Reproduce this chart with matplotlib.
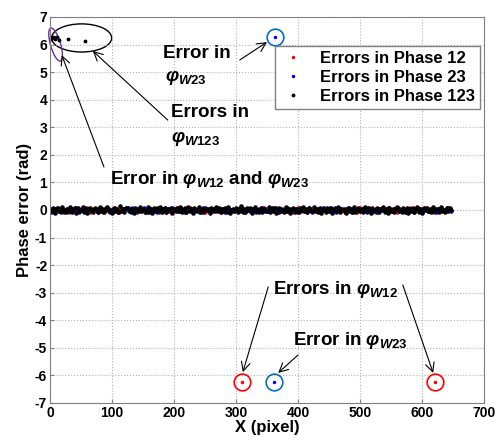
import numpy as np
import matplotlib as mpl
import matplotlib.pyplot as plt
from matplotlib.patches import Ellipse

mpl.rcParams.update({
    'font.family': 'Liberation Sans',
    'font.weight': 'bold',
    'axes.unicode_minus': False,
    'mathtext.fontset': 'custom',
    'mathtext.rm': 'Liberation Sans:bold',
    'mathtext.it': 'Liberation Sans:italic:bold',
    'mathtext.bf': 'Liberation Sans:bold',
})

# noise band around zero (x = pixel index)
red_x = np.arange(0, 650, 5)
red_err = [
    0.05, -0.08, 0.02, -0.04, 0.07, -0.01, -0.09, 0.03, 0.06, -0.05,
    0.01, -0.03, 0.08, -0.07, 0.04, -0.02, 0.09, -0.06, 0.00, 0.05,
    -0.04, 0.07, -0.08, 0.02, -0.01, 0.06, -0.05, 0.03, -0.09, 0.04,
    0.01, -0.06, 0.08, -0.03, 0.05, -0.07, 0.02, 0.06, -0.02, -0.08,
    0.03, 0.07, -0.04, 0.01, -0.06, 0.09, -0.01, 0.04, -0.05, 0.02,
    -0.07, 0.05, 0.00, -0.03, 0.08, -0.09, 0.03, 0.06, -0.04, 0.01,
    0.04, -0.02, 0.07, -0.06, 0.02, -0.08, 0.05, 0.01, -0.03, 0.06,
    -0.05, 0.03, -0.01, 0.08, -0.07, 0.04, -0.02, 0.05, -0.09, 0.02,
    0.07, -0.04, 0.01, -0.06, 0.03, 0.09, -0.03, 0.00, 0.06, -0.05,
    0.02, -0.08, 0.04, 0.07, -0.01, -0.06, 0.05, -0.02, 0.03, -0.07,
    0.08, -0.04, 0.01, 0.06, -0.03, -0.09, 0.04, 0.02, -0.05, 0.07,
    -0.01, 0.03, -0.06, 0.05, 0.00, -0.08, 0.06, -0.02, 0.04, -0.04,
    0.02, 0.07, -0.05, 0.01, -0.07, 0.03, 0.05, -0.03, 0.08, -0.01,
]
blue_x = np.arange(2, 652, 5)
blue_err = [
    -0.06, 0.03, 0.08, -0.02, -0.07, 0.05, 0.01, -0.04, 0.06, -0.09,
    0.02, 0.07, -0.05, 0.00, 0.04, -0.08, 0.03, -0.01, 0.09, -0.06,
    0.05, -0.03, -0.07, 0.02, 0.06, -0.04, 0.08, -0.02, 0.01, -0.05,
    0.07, -0.08, 0.03, 0.04, -0.06, 0.00, 0.05, -0.09, 0.02, 0.06,
    -0.01, -0.04, 0.08, -0.07, 0.03, 0.05, -0.02, 0.01, -0.06, 0.07,
    0.04, -0.05, -0.01, 0.09, -0.03, 0.02, -0.08, 0.06, 0.00, -0.04,
    0.03, 0.07, -0.06, 0.01, -0.02, 0.05, -0.07, 0.04, 0.08, -0.03,
    -0.05, 0.02, 0.06, -0.09, 0.03, -0.01, 0.07, -0.04, 0.05, 0.00,
    -0.06, 0.04, -0.02, 0.08, -0.07, 0.01, 0.03, -0.05, 0.06, -0.03,
    0.09, -0.01, -0.08, 0.02, 0.05, -0.04, 0.07, -0.06, 0.00, 0.03,
    -0.02, 0.06, -0.07, 0.04, 0.01, -0.09, 0.05, 0.02, -0.03, 0.08,
    -0.05, 0.03, 0.07, -0.01, -0.06, 0.04, 0.00, -0.08, 0.06, 0.02,
    -0.04, 0.05, -0.02, 0.09, -0.07, 0.01, 0.03, -0.05, 0.07, -0.03,
]
black_x = np.arange(0, 650, 2.5)
black_err = [
    0.02, -0.05, 0.09, -0.11, 0.04, 0.07, -0.03, -0.08, 0.11, 0.01,
    -0.06, 0.05, -0.02, 0.10, -0.09, 0.03, 0.06, -0.12, 0.08, -0.04,
    0.00, 0.12, -0.07, 0.03, -0.10, 0.05, 0.09, -0.01, -0.06, 0.07,
    0.04, -0.09, 0.11, -0.03, 0.02, -0.08, 0.06, 0.10, -0.05, 0.01,
    -0.11, 0.08, -0.02, 0.05, -0.07, 0.13, -0.04, 0.03, -0.09, 0.06,
    0.09, -0.01, -0.06, 0.04, -0.12, 0.07, 0.02, -0.05, 0.11, -0.03,
    0.05, -0.08, 0.01, 0.10, -0.06, 0.03, -0.10, 0.08, -0.02, 0.06,
    -0.04, 0.12, -0.09, 0.02, 0.07, -0.07, 0.04, -0.01, 0.09, -0.11,
    0.03, -0.05, 0.08, -0.03, 0.11, -0.08, 0.00, 0.06, -0.06, 0.10,
    -0.02, 0.05, -0.10, 0.07, 0.01, -0.04, 0.12, -0.07, 0.04, -0.09,
    0.08, -0.01, 0.03, -0.12, 0.06, 0.02, -0.05, 0.10, -0.03, 0.07,
    -0.08, 0.04, -0.02, 0.09, -0.06, 0.11, -0.10, 0.01, 0.05, -0.04,
    0.07, -0.09, 0.02, 0.13, -0.05, 0.03, -0.07, 0.08, -0.01, 0.06,
    -0.11, 0.04, 0.10, -0.03, 0.00, -0.08, 0.09, -0.06, 0.05, 0.02,
    -0.04, 0.11, -0.09, 0.06, -0.02, 0.08, -0.12, 0.03, 0.07, -0.05,
    0.01, -0.07, 0.10, -0.03, 0.05, -0.10, 0.04, 0.09, -0.06, 0.02,
    -0.08, 0.06, -0.01, 0.12, -0.04, 0.03, -0.09, 0.07, 0.00, -0.05,
    0.11, -0.02, 0.04, -0.07, 0.08, -0.11, 0.05, 0.01, -0.06, 0.09,
    -0.03, 0.07, -0.10, 0.02, 0.06, -0.04, 0.10, -0.08, 0.03, -0.01,
    0.05, -0.12, 0.08, -0.02, 0.04, -0.06, 0.11, -0.09, 0.01, 0.07,
    -0.05, 0.03, -0.08, 0.10, -0.03, 0.06, 0.00, -0.11, 0.09, -0.04,
    0.02, 0.08, -0.07, 0.05, -0.01, 0.12, -0.06, 0.03, -0.10, 0.07,
    -0.02, 0.04, -0.09, 0.06, 0.11, -0.05, 0.01, -0.08, 0.09, -0.03,
    0.07, -0.10, 0.03, -0.04, 0.08, -0.07, 0.05, 0.10, -0.06, 0.02,
    -0.11, 0.06, -0.01, 0.09, -0.05, 0.04, -0.08, 0.11, -0.02, 0.03,
    0.05, -0.07, 0.10, -0.03, 0.01, -0.09, 0.06, -0.04, 0.08, 0.00,
]

# phase-wrap outliers
red_out_x = [6, 309, 621]
red_out_y = [6.24, -6.23, -6.23]
blue_out_x = [9, 363, 362]
blue_out_y = [6.26, 6.28, -6.23]
black_out_x = [2, 5, 8, 11, 14, 29, 56]
black_out_y = [6.22, 6.28, 6.20, 6.26, 6.18, 6.19, 6.13]

labels = ['Errors in Phase 12', 'Errors in Phase 23', 'Errors in Phase 123']

fig = plt.figure(figsize=(5, 4.45), dpi=100)
ax = fig.add_axes([0.1, 0.0944, 0.868, 0.8674])

ax.plot(red_x, red_err, '.', color='red', ms=4.5)
ax.plot(blue_x, blue_err, '.', color='blue', ms=4.5)
ax.plot(black_x, black_err, '.', color='black', ms=4.5)
ax.plot(red_out_x, red_out_y, '.', color='red', ms=3, label=labels[0])
ax.plot(blue_out_x, blue_out_y, '.', color='blue', ms=3, label=labels[1])
ax.plot(black_out_x, black_out_y, '.', color='black', ms=3.5, label=labels[2])

# circles round the single outliers
ax.plot([red_out_x[1], red_out_x[2]], [red_out_y[1], red_out_y[2]], 'o', mfc='none',
        mec='red', ms=12, mew=1.2)
ax.plot([blue_out_x[1], blue_out_x[2]], [blue_out_y[1], blue_out_y[2]], 'o', mfc='none',
        mec='#0070c0', ms=12, mew=1.2)

ax.add_patch(Ellipse((51, 6.24), 97, 1.02, fill=False, ec='black', lw=1, clip_on=False))
ax.add_patch(Ellipse((9, 6.0), 22, 0.92, angle=-2, fill=False, ec='#7030a0', lw=1,
                     clip_on=False))

ax.set_xlim(0, 700)
ax.set_ylim(-7, 7)
ax.set_xticks(range(0, 701, 100))
ax.set_yticks(range(-7, 8))
ax.grid(True, ls=':', color='#b0b0b0', lw=0.8)
ax.tick_params(direction='in', length=3, labelsize=10, color='#808080', pad=2)
for lab in ax.get_xticklabels() + ax.get_yticklabels():
    lab.set_fontweight('bold')
for s in ax.spines.values():
    s.set_color('#808080')
ax.set_xlabel('X (pixel)', fontsize=12, fontweight='bold', labelpad=0)
ax.set_ylabel('Phase error (rad)', fontsize=12, fontweight='bold', labelpad=2)

leg = ax.legend(loc='upper right', bbox_to_anchor=(0.991, 0.925), borderaxespad=0,
                fontsize=12, fancybox=False, edgecolor='#808080', framealpha=1,
                handlelength=1.6, handletextpad=0.8, borderpad=0.3, labelspacing=0.25)
leg.get_frame().set_linewidth(1)

arrow = dict(arrowstyle='->', color='black', lw=0.8, shrinkA=0, shrinkB=0,
             mutation_scale=16)
tkw = dict(fontsize=13.5, fontweight='bold', va='center', ha='left')

ax.annotate('', xy=(350, 6.09), xytext=(306, 5.44), arrowprops=arrow)
ax.text(182, 5.69, 'Error in', **tkw)
ax.text(185, 4.82, r'$\varphi_{W23}$', **tkw)

ax.annotate('', xy=(69, 5.77), xytext=(190, 3.26), arrowprops=arrow)
ax.text(195, 3.52, 'Errors in', **tkw)
ax.text(195, 2.58, r'$\varphi_{W123}$', **tkw)

ax.annotate('', xy=(19, 5.62), xytext=(87, 1.56), arrowprops=arrow)
ax.text(97, 1.09, r'Error in $\varphi_{W12}$ and $\varphi_{W23}$', **tkw)

ax.annotate('', xy=(311, -5.88), xytext=(352, -2.79), arrowprops=arrow)
ax.annotate('', xy=(618, -5.91), xytext=(569, -2.72), arrowprops=arrow)
ax.text(360, -2.87, r'Errors in $\varphi_{W12}$', **tkw)

ax.annotate('', xy=(368, -5.91), xytext=(400, -5.26), arrowprops=arrow)
ax.text(392, -4.72, r'Error in $\varphi_{W23}$', **tkw)

fig.savefig('out.png', dpi=100)
